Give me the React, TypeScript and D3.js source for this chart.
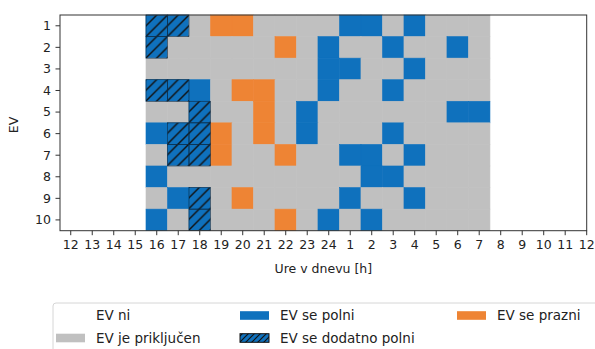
import React from 'react';
import * as d3 from 'd3';

// ure na osi x (od poldneva do poldneva)
const hours = [12, 13, 14, 15, 16, 17, 18, 19, 20, 21, 22, 23, 24, 1, 2, 3, 4, 5, 6, 7, 8, 9, 10, 11, 12];
const evs = ['1', '2', '3', '4', '5', '6', '7', '8', '9', '10'];

// '.' EV ni, 'p' priključen, 'c' se polni, 'x' se dodatno polni, 'd' se prazni
const ev1 = '....xxpddppppccpcppp.....';
const ev2 = '....xpppppdpcppcppcp.....';
const ev3 = '....ppppppppccppcppp.....';
const ev4 = '....xxcpddppcppcpppp.....';
const ev5 = '....ppxppdpcppppppcc.....';
const ev6 = '....cxxdpdpcpppcpppp.....';
const ev7 = '....pxxdppdppccpcppp.....';
const ev8 = '....cpppppppppccpppp.....';
const ev9 = '....pcxpdppppcppcppp.....';
const ev10 = '....cpxpppdpcpcppppp.....';
const rows = [ev1, ev2, ev3, ev4, ev5, ev6, ev7, ev8, ev9, ev10];

const legendItems = [
  { key: '.', label: 'EV ni' },
  { key: 'p', label: 'EV je priključen' },
  { key: 'c', label: 'EV se polni' },
  { key: 'x', label: 'EV se dodatno polni' },
  { key: 'd', label: 'EV se prazni' },
];

const colors: Record<string, string> = {
  '.': 'none',
  p: '#c0c0c0',
  c: '#0f71bd',
  x: '#0f71bd',
  d: '#ee8434',
};

const W = 595;
const H = 349;
const left = 60;
const right = 586.7;
const top = 15;
const bottom = 230.7;
const font = 'DejaVu Sans, sans-serif';
const axisColor = '#333';

export default function App() {
  const x = d3.scaleLinear().domain([-0.5, 24]).range([left, right]);
  const y = d3.scaleBand().domain(evs).range([top, bottom]);
  const cw = x(1) - x(0);

  const cells: { i: number; j: number; s: string }[] = [];
  rows.forEach((r, j) => {
    r.split('').forEach((s, i) => {
      if (s !== '.') cells.push({ i, j, s });
    });
  });

  // legenda: stolpci po dveh vrsticah (kot v matplotlibu)
  const legCols = [56, 240, 457];
  const legRows = [315.5, 338];

  return (
    <svg width={W} height={H} style={{ position: 'absolute', left: 0, top: 0, background: '#fff' }}>
      <defs>
        <pattern id="hatch" patternUnits="userSpaceOnUse" width={cw / 2} height={cw / 2} x={left} y={top}>
          <path
            d={`M0,${cw / 2} L${cw / 2},0 M${-cw / 4},${cw / 4} L${cw / 4},${-cw / 4} M${cw / 4},${cw * 0.75} L${cw * 0.75},${cw / 4}`}
            stroke="#111"
            strokeWidth={1.4}
          />
        </pattern>
        <pattern id="hatchLeg" patternUnits="userSpaceOnUse" width={6} height={6}>
          <path d="M0,6 L6,0 M-3,3 L3,-3 M3,9 L9,3" stroke="#111" strokeWidth={1.2} />
        </pattern>
      </defs>

      {/* celice */}
      {cells.map((d, k) => (
        <rect
          key={'f' + k}
          x={x(d.i - 0.5)}
          y={y(evs[d.j])!}
          width={cw}
          height={y.bandwidth()}
          fill={colors[d.s]}
          stroke={colors[d.s]}
          strokeWidth={0.6}
        />
      ))}
      {cells
        .filter((d) => d.s === 'x')
        .map((d, k) => (
          <rect
            key={'h' + k}
            x={x(d.i - 0.5)}
            y={y(evs[d.j])!}
            width={cw}
            height={y.bandwidth()}
            fill="url(#hatch)"
            stroke="#0a2a45"
            strokeWidth={0.6}
          />
        ))}

      {/* okvir */}
      <rect x={left} y={top} width={right - left} height={bottom - top} fill="none" stroke={axisColor} strokeWidth={1} />

      {/* os x */}
      {hours.map((h, i) => (
        <g key={i} transform={`translate(${x(i)},${bottom})`}>
          <line y1={0} y2={4.5} stroke={axisColor} />
          <text y={18.5} textAnchor="middle" fontFamily={font} fontSize={12.5} fill="#222">
            {h}
          </text>
        </g>
      ))}
      <text x={(left + right) / 2} y={273} textAnchor="middle" fontFamily={font} fontSize={12.5} fill="#222">
        Ure v dnevu [h]
      </text>

      {/* os y */}
      {evs.map((e) => (
        <g key={e} transform={`translate(${left},${y(e)! + y.bandwidth() / 2})`}>
          <line x1={0} x2={-4.5} stroke={axisColor} />
          <text x={-9} dy="0.35em" textAnchor="end" fontFamily={font} fontSize={12.5} fill="#222">
            {e}
          </text>
        </g>
      ))}
      <text
        transform={`translate(18,125) rotate(-90)`}
        textAnchor="middle"
        fontFamily={font}
        fontSize={12.5}
        fill="#222"
      >
        EV
      </text>

      {/* legenda */}
      <rect x={53} y={303} width={580} height={70} rx={3} fill="#fff" stroke="#d6d6d6" strokeWidth={1} />
      {legendItems.map((it, k) => {
        const cx = legCols[Math.floor(k / 2)];
        const cy = legRows[k % 2];
        return (
          <g key={it.key}>
            {it.key !== '.' && (
              <rect x={cx} y={cy - 4.3} width={29} height={8.6} fill={colors[it.key]} />
            )}
            {it.key === 'x' && (
              <rect x={cx} y={cy - 4.3} width={29} height={8.6} fill="url(#hatchLeg)" stroke="#111" strokeWidth={1} />
            )}
            <text x={cx + 40} y={cy} dy="0.36em" fontFamily={font} fontSize={13.5} fill="#222">
              {it.label}
            </text>
          </g>
        );
      })}
    </svg>
  );
}
